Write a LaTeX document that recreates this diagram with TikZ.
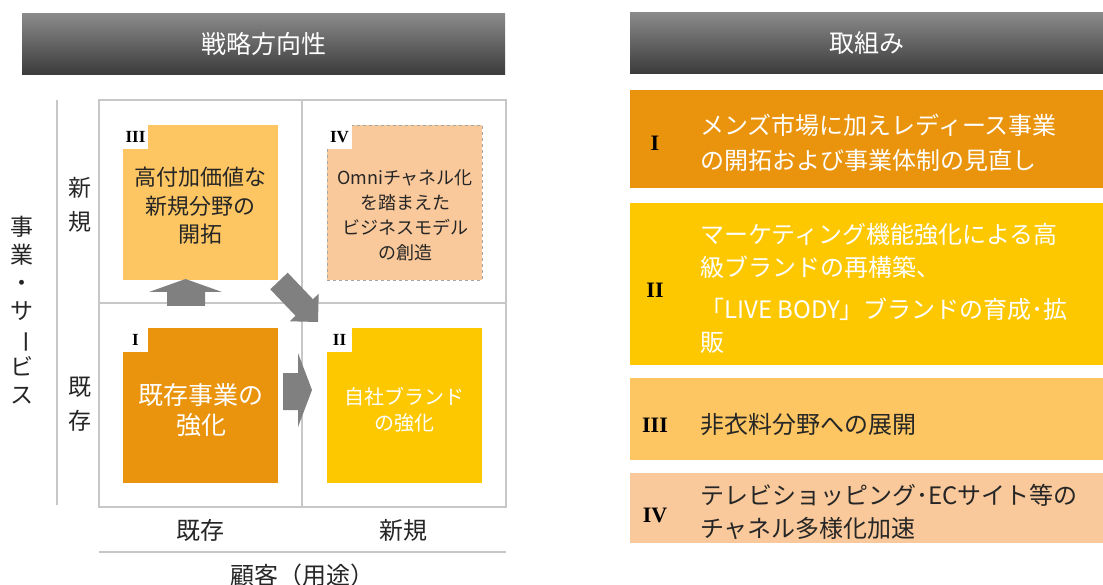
\documentclass[tikz,border=0pt]{standalone}
\usepackage{fontspec}
\usepackage{graphicx}
\setmainfont{Noto Sans CJK JP}
\newfontfamily\romannum{Liberation Serif}
\usetikzlibrary{positioning}

\definecolor{deep orange}{RGB}{233,148,12}
\definecolor{brand yellow}{RGB}{254,200,0}
\definecolor{soft orange}{RGB}{253,198,98}
\definecolor{peach}{RGB}{250,201,155}
\colorlet{block arrow}{black!50}
\colorlet{grid line}{black!22}
\colorlet{dark text}{black!85}
\tikzset{
  headbar/.style={top color=black!46, bottom color=black!77, minimum height=61pt, inner sep=0pt, text=white, font=\fontsize{25}{30}\selectfont},
  quad/.style={minimum width=155pt, minimum height=155pt, inner sep=0pt},
  notch/.style={fill=white, minimum width=25pt, minimum height=24pt, inner sep=0pt, anchor=north west, font=\romannum\bfseries\fontsize{17}{17}\selectfont},
  item/.style={anchor=west, minimum width=473pt, inner sep=0pt},
  numeral/.style={inner sep=0pt, font=\romannum\bfseries\fontsize{22}{22}\selectfont, text=black},
  itemtext/.style={anchor=west, inner sep=0pt, align=left, font=\fontsize{24}{33}\selectfont}
  }
\tikzstyle{grid} = [draw=grid line, line width=1.2pt]
\tikzstyle{axis label} = [inner sep=0pt, align=center, font=\fontsize{23}{34}\selectfont, text=dark text]
\def\quadrants{{(200.5,202.5)/q3/soft orange}, {(404.5,202.5)/q4/peach}, {(200.5,405.5)/q1/deep orange}, {(404.5,405.5)/q2/brand yellow}}
\def\items{{139/98/r1/deep orange}, {284/162/r2/brand yellow}, {419/82/r3/soft orange}, {508/70/r4/peach}}

\begin{document}
\begin{tikzpicture}[x=1pt, y=-1pt]

    \path[use as bounding box, fill=white] (0,0) rectangle (1103,585);

    % The two title bars
    \node[headbar, minimum width=483pt] (strategy) at (263.5,44.5) {戦略方向性};
    \node[headbar, minimum width=473pt] (action) at (866.5,43.5) {取組み};

    % The grid of the matrix
    \draw[grid] (99,100) rectangle (506,507);
    \draw[grid] (302,100) -- (302,507);
    \draw[grid] (99,303) -- (506,303);
    \draw[grid] (57,100) -- (57,505);
    \draw[grid] (99,552) -- (506,552);

    % The four quadrants
    \foreach \pos/\name/\col in \quadrants
      \node[quad, fill=\col] (\name) at \pos {};
    \draw[draw=black!35, dashed] (q4.north west) rectangle (q4.south east);
    \foreach \name/\num in {q3/III, q4/IV, q1/I, q2/II}
      \node[notch] (\name-num) at (\name.north west) {\num};

    \node[text=dark text, align=center, font=\fontsize{22}{28.5}\selectfont] (q3-text) at (200.5,206) {高付加価値な\\新規分野の\\開拓};
    \node[text=dark text, align=center, font=\fontsize{18}{25}\selectfont] (q4-text) at (405,215) {Omniチャネル化\\を踏まえた\\ビジネスモデル\\の創造};
    \node[text=white, align=center, font=\fontsize{25}{30}\selectfont] (q1-text) at (201,410) {既存事業の\\強化};
    \node[text=white, align=center, font=\fontsize{20}{26}\selectfont] (q2-text) at (404,410) {自社ブランド\\の強化};

    % The moves between quadrants
    \fill[block arrow] (167,306) -- (167,292) -- (149,292) -- (185.5,279) -- (222,292) -- (205,292) -- (205,306) -- cycle;
    \fill[block arrow] (283,373) -- (298,373) -- (298,353) -- (312,390) -- (298,427) -- (298,410) -- (283,410) -- cycle;
    \fill[block arrow] (287.7,272.7) -- (312.9,299.2) -- (318.7,293.7) -- (318,322) -- (289.7,321.3) -- (295.5,315.8) -- (270.3,289.3) -- cycle;

    % Axis labels
    \node[axis label] (new-v) at (80,205) {新\\規};
    \node[axis label] (old-v) at (80,404) {既\\存};
    \node[axis label, font=\fontsize{23}{28}\selectfont] (business) at (22,310) {事\\業\\・\\サ\\\rotatebox[origin=c]{-90}{ー}\\ビ\\ス};
    \node[axis label, font=\fontsize{24}{30}\selectfont] (old-h) at (200,530) {既存};
    \node[axis label, font=\fontsize{24}{30}\selectfont] (new-h) at (403,530) {新規};
    \node[axis label, font=\fontsize{24}{30}\selectfont] (customer) at (302,575) {顧客（用途）};

    % The measures on the right
    \foreach \y/\h/\name/\col in \items
      \node[item, fill=\col, minimum height=\h pt] (\name) at (630,\y) {};
    \foreach \y/\name/\num in {143/r1/I, 290/r2/II, 425/r3/III, 515/r4/IV}
      \node[numeral] (\name-num) at (655,\y) {\num};

    \node[itemtext, text=white, font=\fontsize{24}{35}\selectfont] (r1-text) at (700,142.5) {メンズ市場に加えレディース事業\\の開拓および事業体制の見直し};
    \node[itemtext, text=white] (r2-text) at (700,288.5) {マーケティング機能強化による高\\級ブランドの再構築、\\[9pt]「LIVE BODY」ブランドの育成･拡\\販};
    \node[itemtext, text=dark text] (r3-text) at (700,425) {非衣料分野への展開};
    \node[itemtext, text=dark text] (r4-text) at (700,511.5) {テレビショッピング･ECサイト等の\\チャネル多様化加速};

\end{tikzpicture}
\end{document}
